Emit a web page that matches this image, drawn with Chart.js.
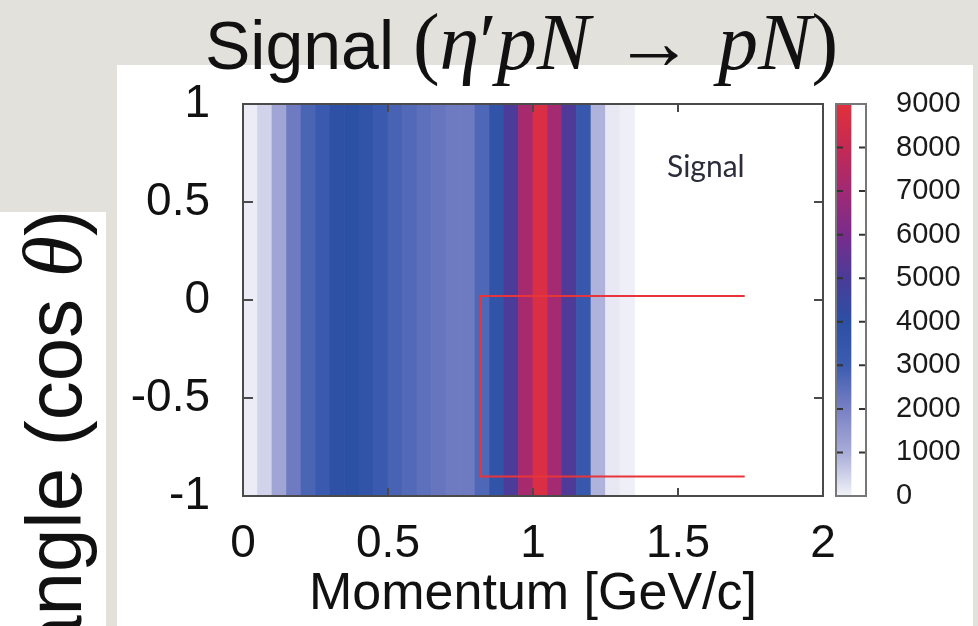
<!DOCTYPE html>
<html>
<head>
<meta charset="utf-8">
<script src="https://cdn.jsdelivr.net/npm/chart.js@4.4.0/dist/chart.umd.min.js"></script>
<style>
  html, body { margin: 0; padding: 0; }
  body { width: 978px; height: 626px; overflow: hidden; position: relative; background: #e3e1db; font-family: "Liberation Sans", Arial, sans-serif; color: #111; }
  .panel { position: absolute; background: #fff; }
  canvas { position: absolute; top: 0; }
  #title { position: absolute; left: 205px; top: 8px; font-size: 68px; line-height: 68px; white-space: nowrap; }
  #title .m { font-family: "Liberation Serif", "Times New Roman", serif; font-size: 80px; }
  #title .arr { margin: 0 0.3em; font-style: normal; }
  #ylab { position: absolute; left: 14px; top: 810px; width: 600px; text-align: right; font-size: 78px; line-height: 78px; white-space: nowrap; transform-origin: 0 0; transform: rotate(-90deg); }
  #ylab i { font-family: "Liberation Serif", "Times New Roman", serif; font-size: 84px; }
  #tag { position: absolute; left: 667px; top: 150px; font-family: Lato, "Open Sans", sans-serif; font-size: 30px; line-height: 30px; color: #2b2d3a; }
</style>
</head>
<body>
<div class="panel" style="left:117px;top:65px;width:856px;height:561px"></div>
<div class="panel" style="left:0;top:212px;width:106px;height:414px"></div>
<canvas id="main" width="978" height="626" style="left:0"></canvas>
<canvas id="cbar" width="152" height="626" style="left:826px"></canvas>
<div id="title">Signal <span class="m">(<i>η</i>′<i>pN</i><span class="arr">→</span><i>pN</i>)</span></div>
<div id="ylab">angle (cos <i>θ</i>)</div>
<div id="tag">Signal</div>
<script>
// momentum bins, 0.05 GeV/c wide, value is the same for every cos(theta)
var binWidth = 0.05;
var counts = [100, 450, 1150, 2150, 2750, 3200, 3900, 4000, 3700, 3200,
              2800, 2650, 2450, 2300, 2150, 2150, 2700, 3700, 5000, 7200,
              8700, 7100, 5100, 3300, 900, 150, 40, 0, 0, 0,
              0, 0, 0, 0, 0, 0, 0, 0, 0, 0];

// colour scale
var cbStops = [0, 1000, 2000, 3000, 4000, 5000, 6000, 7000, 8000, 9000];
var cbColors = ['#f2f3f8', '#a8acd8', '#7880c4', '#3c5cb0', '#2c50a4',
                '#4a3c98', '#7a2c8c', '#a02a74', '#c42a54', '#e2303c'];

// signal region outline (open on the right)
var boxX = [1.73, 0.82, 0.82, 1.73];
var boxY = [0.02, 0.02, -0.9, -0.9];

function hex(c) {
  return [parseInt(c.slice(1, 3), 16), parseInt(c.slice(3, 5), 16), parseInt(c.slice(5, 7), 16)];
}

function colorFor(v) {
  if (v <= 0) return 'rgba(255,255,255,0)';
  for (var i = 1; i < cbStops.length; i++) {
    if (v <= cbStops[i]) {
      var t = (v - cbStops[i - 1]) / (cbStops[i] - cbStops[i - 1]);
      var a = hex(cbColors[i - 1]), b = hex(cbColors[i]);
      return 'rgb(' + a.map(function (x, k) { return Math.round(x + (b[k] - x) * t); }).join(',') + ')';
    }
  }
  return cbColors[cbColors.length - 1];
}

function plain(v) {
  return String(Math.round(v * 100) / 100);
}

var frame = {
  id: 'frame',
  afterDatasetsDraw: function (chart) {
    var ctx = chart.ctx, a = chart.chartArea;
    var xs = chart.scales.x, ys = chart.scales.y;
    ctx.save();
    ctx.strokeStyle = '#4a4a4a';
    ctx.lineWidth = 2;
    ctx.beginPath();
    xs.ticks.forEach(function (t) {
      if (t.value <= xs.min || t.value >= xs.max) return;
      var px = xs.getPixelForValue(t.value);
      ctx.moveTo(px, a.top); ctx.lineTo(px, a.top + 8);
      ctx.moveTo(px, a.bottom); ctx.lineTo(px, a.bottom - 8);
    });
    ys.ticks.forEach(function (t) {
      if (t.value <= ys.min || t.value >= ys.max) return;
      var py = ys.getPixelForValue(t.value);
      ctx.moveTo(a.left, py); ctx.lineTo(a.left + 10, py);
      ctx.moveTo(a.right, py); ctx.lineTo(a.right - 9, py);
    });
    ctx.stroke();
    ctx.strokeRect(a.left, a.top, a.right - a.left, a.bottom - a.top);
    ctx.restore();
  }
};

new Chart(document.getElementById('main'), {
  type: 'bar',
  data: {
    datasets: [
      {
        type: 'line',
        data: boxX.map(function (x, i) { return { x: x, y: boxY[i] }; }),
        borderColor: '#e8353a',
        borderWidth: 2,
        pointRadius: 0,
        fill: false,
        tension: 0,
        order: 0
      },
      {
        data: counts.map(function (c, i) { return { x: (i + 0.5) * binWidth, y: [-1, 1] }; }),
        backgroundColor: counts.map(colorFor),
        borderWidth: 0,
        barPercentage: 1,
        categoryPercentage: 1,
        grouped: false,
        order: 1
      }
    ]
  },
  options: {
    responsive: false,
    animation: false,
    events: [],
    layout: { padding: { left: 0, top: 104, right: 155, bottom: 0 } },
    plugins: { legend: { display: false }, tooltip: { enabled: false } },
    scales: {
      x: {
        type: 'linear', min: 0, max: 2, offset: false,
        grid: { display: false }, border: { display: false },
        ticks: { stepSize: 0.5, autoSkip: false, maxRotation: 0, padding: 13, color: '#111',
                 font: { family: 'Liberation Sans', size: 46 }, callback: plain },
        title: { display: true, text: 'Momentum [GeV/c]', color: '#111', padding: { top: 0, bottom: 0 },
                 font: { family: 'Liberation Sans', size: 52 } },
        afterFit: function (s) { s.height = 130; }
      },
      y: {
        type: 'linear', min: -1, max: 1,
        grid: { display: false }, border: { display: false },
        ticks: { stepSize: 0.5, padding: 25, color: '#111', font: { family: 'Liberation Sans', size: 46 },
                 callback: plain },
        afterFit: function (s) { s.width = 243; }
      }
    }
  },
  plugins: [frame]
});

var cbFrame = {
  id: 'cbFrame',
  afterDatasetsDraw: function (chart) {
    var ctx = chart.ctx, a = chart.chartArea, ys = chart.scales.y;
    ctx.save();
    ctx.strokeStyle = '#333';
    ctx.lineWidth = 2;
    ctx.beginPath();
    ys.ticks.forEach(function (t) {
      if (t.value <= ys.min || t.value >= ys.max) return;
      var py = ys.getPixelForValue(t.value);
      ctx.moveTo(a.left, py); ctx.lineTo(a.left + 7, py);
      ctx.moveTo(a.right, py); ctx.lineTo(a.right - 7, py);
    });
    ctx.stroke();
    ctx.strokeStyle = '#777';
    ctx.strokeRect(a.left, a.top, a.right - a.left, a.bottom - a.top);
    ctx.restore();
  }
};

new Chart(document.getElementById('cbar'), {
  type: 'bar',
  data: {
    labels: ['z'],
    datasets: [{
      data: [[cbStops[0], cbStops[cbStops.length - 1]]],
      backgroundColor: function (c) {
        var chart = c.chart;
        if (!chart.chartArea) return cbColors[0];
        var y = chart.scales.y;
        var lo = cbStops[0], hi = cbStops[cbStops.length - 1];
        var g = chart.ctx.createLinearGradient(0, y.getPixelForValue(lo), 0, y.getPixelForValue(hi));
        cbStops.forEach(function (v, i) { g.addColorStop((v - lo) / (hi - lo), cbColors[i]); });
        return g;
      },
      borderWidth: 0,
      barPercentage: 1,
      categoryPercentage: 1
    }]
  },
  options: {
    responsive: false,
    animation: false,
    events: [],
    layout: { padding: { left: 10, top: 104, right: 0, bottom: 130 } },
    plugins: { legend: { display: false }, tooltip: { enabled: false } },
    scales: {
      x: { display: false, offset: false },
      y: {
        position: 'right', min: 0, max: 9000,
        grid: { display: false }, border: { display: false },
        ticks: { stepSize: 1000, padding: 22, color: '#1a1a1a', font: { family: 'Liberation Sans', size: 29 },
                 callback: function (v) { return String(v); } },
        afterFit: function (s) { s.width = 112; }
      }
    }
  },
  plugins: [cbFrame]
});
</script>
</body>
</html>
